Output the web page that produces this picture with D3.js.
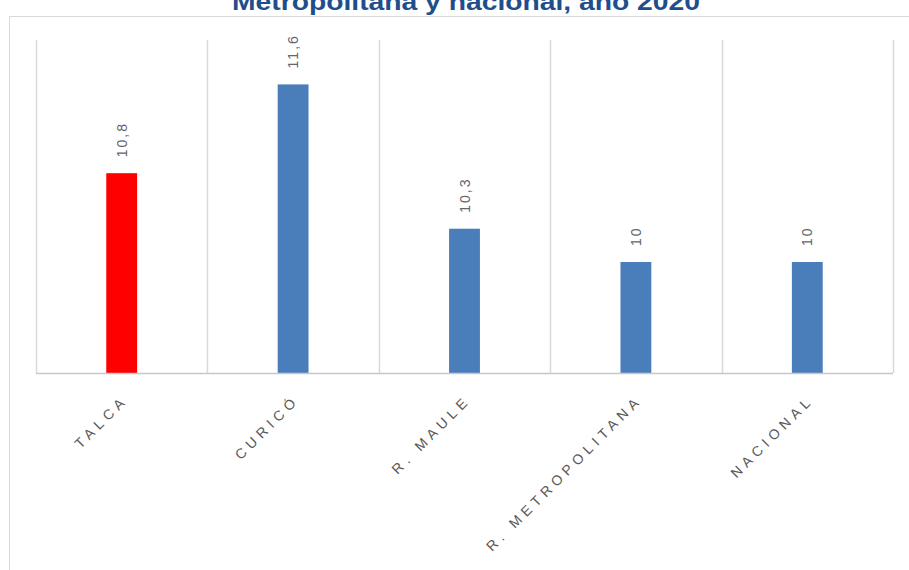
<!DOCTYPE html>
<html>
<head>
<meta charset="utf-8">
<script src="https://cdn.jsdelivr.net/npm/d3@7"></script>
<style>
  body { margin: 0; background: #fff; }
  svg { display: block; }
</style>
</head>
<body>
<svg width="909" height="570"></svg>
<script>
var svg = d3.select('svg');

// data
var categories = ['TALCA', 'CURICÓ', 'R. MAULE', 'R. METROPOLITANA', 'NACIONAL'];
var values = [10.8, 11.6, 10.3, 10, 10];
var valueLabels = ['10,8', '11,6', '10,3', '10', '10'];
var highlight = ['TALCA'];

var title = 'Metropolitana y nacional, año 2020';

var plotLeft = 36, plotRight = 893, plotTop = 40, plotBottom = 373;

// chart frame (cut off right and bottom)
svg.append('rect')
    .attr('x', 9.5).attr('y', 16.5)
    .attr('width', 920).attr('height', 600)
    .attr('fill', 'none')
    .attr('stroke', '#d9d9d9');

svg.append('text')
    .attr('x', 466).attr('y', 10)
    .attr('text-anchor', 'middle')
    .attr('font-family', 'Liberation Sans, Arial, sans-serif')
    .attr('font-weight', 'bold')
    .attr('font-size', 24)
    .attr('fill', '#1f4e8c')
    .attr('textLength', 468)
    .attr('lengthAdjust', 'spacingAndGlyphs')
    .text(title);

var x = d3.scaleBand()
    .domain(categories)
    .range([plotLeft, plotRight])
    .padding(0);

var y = d3.scaleLinear()
    .domain([9, 12])
    .range([plotBottom, plotTop]);

var barW = x.bandwidth() * 0.18;

// vertical gridlines at category boundaries
var bounds = categories.map(function(d){ return x(d); });
bounds.push(plotRight);

svg.selectAll('line.grid')
    .data(bounds)
    .enter()
    .append('line')
    .attr('class', 'grid')
    .attr('x1', function(d){ return Math.round(d) + 0.5; })
    .attr('x2', function(d){ return Math.round(d) + 0.5; })
    .attr('y1', y(12))
    .attr('y2', y(9))
    .attr('stroke', '#d9d9d9')
    .attr('stroke-width', 1.5);

var data = categories.map(function(c, i){
    return {name: c, value: values[i], label: valueLabels[i]};
});

svg.selectAll('rect.bar')
    .data(data)
    .enter()
    .append('rect')
    .attr('class', 'bar')
    .attr('x', function(d){ return x(d.name) + x.bandwidth() / 2 - barW / 2; })
    .attr('y', function(d){ return y(d.value); })
    .attr('width', barW)
    .attr('height', function(d){ return y(9) - y(d.value); })
    .attr('fill', function(d){
        return highlight.indexOf(d.name) >= 0 ? '#ff0000' : '#4a7ebb';
    });

// baseline
svg.append('line')
    .attr('x1', plotLeft).attr('x2', plotRight)
    .attr('y1', y(9) + 0.5).attr('y2', y(9) + 0.5)
    .attr('stroke', '#c8c8c8')
    .attr('stroke-width', 1.5);

// value labels, rotated
svg.selectAll('text.value')
    .data(data)
    .enter()
    .append('text')
    .attr('class', 'value')
    .attr('transform', function(d){
        var cx = x(d.name) + x.bandwidth() / 2 + 5;
        return 'translate(' + cx + ',' + (y(d.value) - 16) + ') rotate(-90)';
    })
    .attr('font-family', 'Liberation Sans, Arial, sans-serif')
    .attr('font-size', 14)
    .attr('letter-spacing', 2)
    .attr('fill', '#666')
    .text(function(d){ return d.label; });

// category labels at -45 degrees
svg.selectAll('text.cat')
    .data(categories)
    .enter()
    .append('text')
    .attr('class', 'cat')
    .attr('text-anchor', 'end')
    .attr('transform', function(d){
        var cx = x(d) + x.bandwidth() / 2 + 7;
        return 'translate(' + cx + ',' + 401 + ') rotate(-45)';
    })
    .attr('font-family', 'Liberation Sans, Arial, sans-serif')
    .attr('font-size', 14)
    .attr('letter-spacing', 4.8)
    .attr('fill', '#595959')
    .text(function(d){ return d; });
</script>
</body>
</html>
